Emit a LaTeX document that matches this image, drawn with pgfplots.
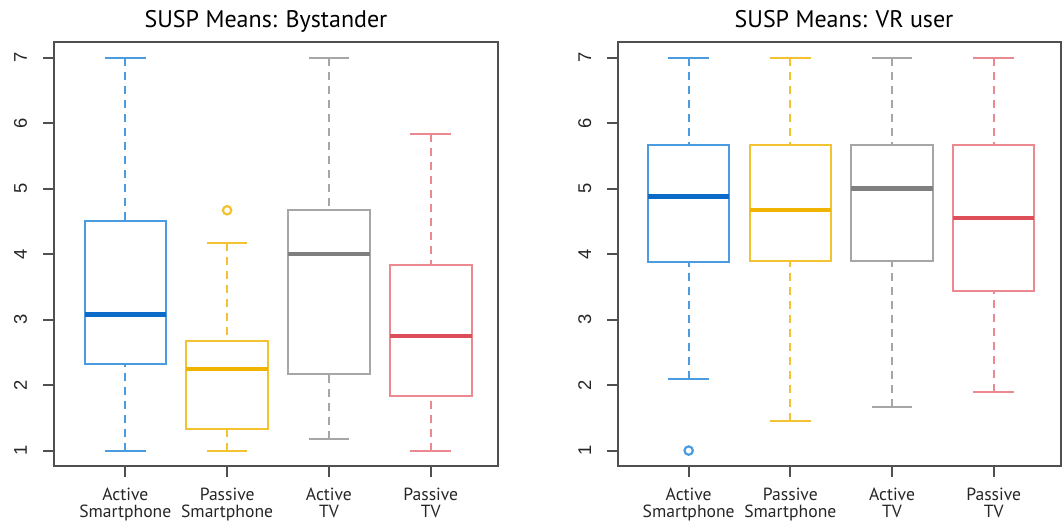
\documentclass[border=0pt]{standalone}
\usepackage{pgfplots}
\pgfplotsset{compat=1.18}
\usepgfplotslibrary{statistics}
\usepackage{fontspec}
\setmainfont{PT Sans}
\newfontfamily\arialf{Liberation Sans}
\definecolor{bluebox}{HTML}{4A9BE0}
\definecolor{bluemed}{HTML}{0A6CC8}
\definecolor{yelbox}{HTML}{F2C230}
\definecolor{yelmed}{HTML}{F0B400}
\definecolor{graybox}{HTML}{A6A6A6}
\definecolor{graymed}{HTML}{7F7F7F}
\definecolor{redbox}{HTML}{EC8890}
\definecolor{redmed}{HTML}{DE4E58}
\definecolor{framec}{HTML}{505050}
\pgfplotsset{
  bx/.style 2 args={solid, draw=#1, line width=1pt, mark=o, mark size=2.1pt,
    mark options={solid, draw=#1, line width=1.1pt},
    boxplot/every box/.style={draw=#1, line width=1pt},
    boxplot/every whisker/.style={draw=#1, line width=1pt},
    boxplot/every median/.style={draw=#2, line width=2.2pt}},
  susp/.style={
    scale only axis, height=212pt, ymin=0.765, ymax=7.24,
    axis line style={framec, line width=1pt},
    tick style={framec, line width=1pt},
    major tick length=5.5pt,
    tick align=outside,
    xtick pos=bottom, ytick pos=left,
    xtick={1,2,3,4}, ytick={1,2,3,4,5,6,7},
    /pgf/number format/assume math mode=true,
    xticklabels={{Active\\Smartphone},{Passive\\Smartphone},{Active\\TV},{Passive\\TV}},
    xticklabel style={align=center, font=\fontsize{8.8}{8.6}\selectfont, text=black!85, yshift=-1.8pt},
    yticklabel style={rotate=90, anchor=south, font=\arialf\fontsize{9.2}{10}\selectfont, text=black!85},
    yticklabel shift=4.5pt,
    boxplot/draw direction=y,
    boxplot/box extend=0.8,
    boxplot/whisker extend=0.4,
    boxplot/draw/lower whisker/.code={%
      \draw[/pgfplots/boxplot/every whisker/.try, dash pattern=on 4pt off 3pt]
        (boxplot cs:\pgfplotsboxplotvalue{lower whisker}) -- (boxplot cs:\pgfplotsboxplotvalue{lower quartile});
      \draw[/pgfplots/boxplot/every whisker/.try]
        (boxplot whisker cs:\pgfplotsboxplotvalue{lower whisker},0) -- (boxplot whisker cs:\pgfplotsboxplotvalue{lower whisker},1);
    },
    boxplot/draw/upper whisker/.code={%
      \draw[/pgfplots/boxplot/every whisker/.try, dash pattern=on 4pt off 3pt]
        (boxplot cs:\pgfplotsboxplotvalue{upper whisker}) -- (boxplot cs:\pgfplotsboxplotvalue{upper quartile});
      \draw[/pgfplots/boxplot/every whisker/.try]
        (boxplot whisker cs:\pgfplotsboxplotvalue{upper whisker},0) -- (boxplot whisker cs:\pgfplotsboxplotvalue{upper whisker},1);
    },
  },
}
\begin{document}
\begin{tikzpicture}
\path[use as bounding box] (0,0) rectangle (531pt,261pt);
\node[anchor=base, font=\fontsize{12}{14}\selectfont] at (133pt,247pt) {SUSP Means: Bystander};
\node[anchor=base, font=\fontsize{12}{14}\selectfont] at (422pt,247pt) {SUSP Means: VR user};
\begin{axis}[susp, at={(27pt,28pt)}, anchor=south west, width=222pt, xmin=0.3, xmax=4.66]
\addplot[bx={bluebox}{bluemed}, boxplot prepared={draw position=1, lower whisker=1, lower quartile=2.33, median=3.08, upper quartile=4.5, upper whisker=7}] coordinates {};
\addplot[bx={yelbox}{yelmed}, boxplot prepared={draw position=2, lower whisker=1, lower quartile=1.33, median=2.25, upper quartile=2.67, upper whisker=4.17}] coordinates {(2,4.67)};
\addplot[bx={graybox}{graymed}, boxplot prepared={draw position=3, lower whisker=1.17, lower quartile=2.17, median=4.0, upper quartile=4.67, upper whisker=7}] coordinates {};
\addplot[bx={redbox}{redmed}, boxplot prepared={draw position=4, lower whisker=1, lower quartile=1.83, median=2.75, upper quartile=3.83, upper whisker=5.83}] coordinates {};
\end{axis}
\begin{axis}[susp, at={(309.15pt,28pt)}, anchor=south west, width=221.35pt, xmin=0.308, xmax=4.662]
\addplot[bx={bluebox}{bluemed}, boxplot prepared={draw position=1, lower whisker=2.1, lower quartile=3.88, median=4.88, upper quartile=5.66, upper whisker=7}] coordinates {(1,1)};
\addplot[bx={yelbox}{yelmed}, boxplot prepared={draw position=2, lower whisker=1.45, lower quartile=3.89, median=4.67, upper quartile=5.67, upper whisker=7}] coordinates {};
\addplot[bx={graybox}{graymed}, boxplot prepared={draw position=3, lower whisker=1.67, lower quartile=3.89, median=5.0, upper quartile=5.67, upper whisker=7}] coordinates {};
\addplot[bx={redbox}{redmed}, boxplot prepared={draw position=4, lower whisker=1.89, lower quartile=3.44, median=4.55, upper quartile=5.67, upper whisker=7}] coordinates {};
\end{axis}
\end{tikzpicture}
\end{document}
